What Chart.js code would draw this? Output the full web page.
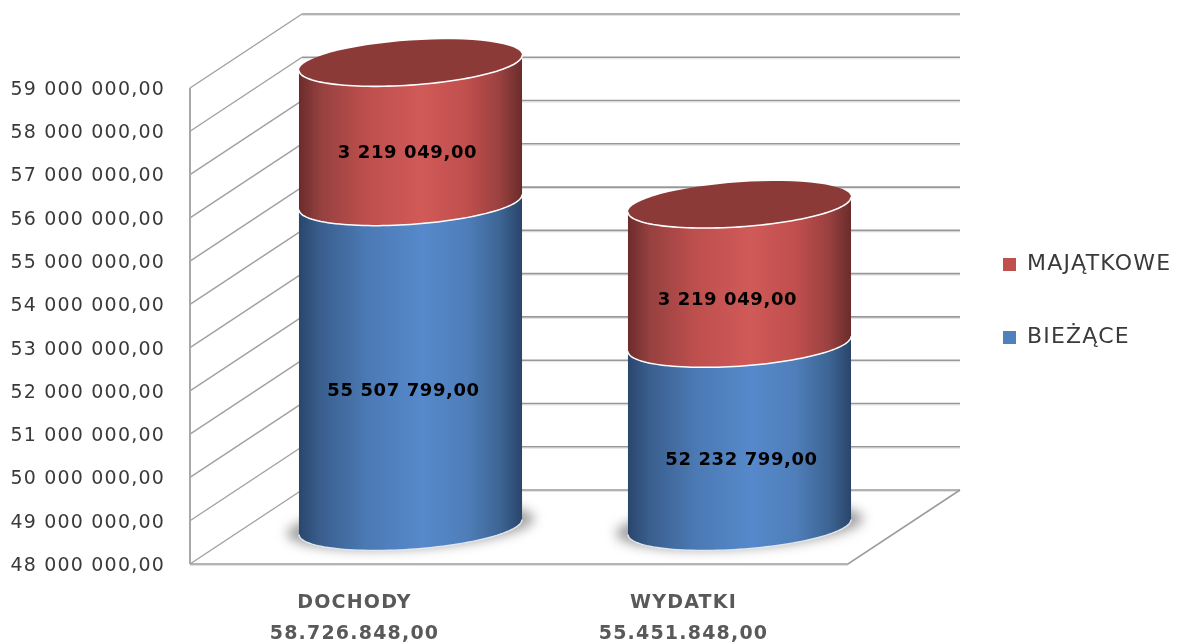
<!DOCTYPE html>
<html><head><meta charset="utf-8">
<style>html,body{margin:0;padding:0;background:#fff}#w{width:1186px;height:643px}</style>
<script src="https://cdn.jsdelivr.net/npm/chart.js@4"></script>
</head><body><div id="w"><canvas id="c"></canvas></div>
<script>
const categories = ['DOCHODY', 'WYDATKI'];
const totalLabels = ['58.726.848,00', '55.451.848,00'];
const biezace = [55507799, 52232799];
const majatkowe = [3219049, 3219049];
const axisMin = 48000000, axisMax = 59000000, axisStep = 1000000;
const fmt = v => Math.floor(v).toString().replace(/\B(?=(\d{3})+$)/g, ' ') + ',00';

// 3D look
const DX = 112, DY = -74;
const TILT = 7.5, MINOR = 22.3;
const labelShift = [[[-7, 27], [-3, 21]], [[2, 25], [-12, 26]]];
const looks = [
  ['#2a466c', '#3a5f8f', '#4b79b3', '#5689cb', '#4f7eba', '#3d6594', '#2a456a'],
  ['#6b2c2b', '#964140', '#bd4f4d', '#d05a58', '#c04f4d', '#9a4140', '#692c2a']
];
const TOP = '#8c3a38';

function ring(cx, cy, a, from, to, move, ctx) {
  const n = 64;
  for (let i = 0; i <= n; i++) {
    const t = from + (to - from) * i / n;
    const x = cx + a * Math.cos(t), y = cy - TILT * Math.cos(t) + MINOR * Math.sin(t);
    (i === 0 && move) ? ctx.moveTo(x, y) : ctx.lineTo(x, y);
  }
}

const scene = {
  id: 'scene',
  beforeDraw(chart) { chart.ctx.letterSpacing = '1.2px'; },
  beforeDatasetDraw() { return false; },
  beforeDatasetsDraw(chart) {
    const { ctx, scales: { x: xs, y: ys } } = chart;
    const L = xs.left, R = xs.right, B = ys.bottom;
    ctx.save();
    ctx.lineCap = 'butt';
    const line = (pts, col, w) => {
      ctx.beginPath(); ctx.strokeStyle = col; ctx.lineWidth = w;
      pts.forEach((p, i) => i ? ctx.lineTo(p[0], p[1]) : ctx.moveTo(p[0], p[1]));
      ctx.stroke();
    };
    ys.ticks.forEach((t, i) => {
      const y = ys.getPixelForTick(i);
      line([[L, y], [L + DX, y + DY]], '#a0a0a0', 1.4);
      line([[L + DX, y + DY + 1.5], [R + DX, y + DY + 1.5]], '#e2e2e2', 1);
      line([[L + DX, y + DY], [R + DX, y + DY]], '#989898', 1.6);
    });
    line([[L, ys.top], [L, B]], '#a8a8a8', 2);
    line([[L, B + 1.5], [R, B + 1.5]], '#e0e0e0', 1);
    line([[L, B], [R, B], [R + DX, B + DY]], '#9c9c9c', 1.6);
    ctx.restore();
  },
  afterDatasetsDraw(chart) {
    const { ctx, scales: { y: ys } } = chart;
    const mA = chart.getDatasetMeta(0), mB = chart.getDatasetMeta(1);
    const floorPx = ys.getPixelForValue(axisMin);
    ctx.save();
    ctx.letterSpacing = '0.6px';
    categories.forEach((_, i) => {
      [mA.data[i], mB.data[i]].forEach((el, s) => {
        const p = el.getProps(['x', 'y', 'base', 'width'], true);
        const cx = p.x + DX / 2, a = p.width / 2;
        const yt = p.y + DY / 2, yb = Math.min(p.base, floorPx) + DY / 2;
        if (s === 0) {
          ctx.save();
          ctx.filter = 'blur(6px)';
          ctx.fillStyle = 'rgba(95,95,95,.6)';
          ctx.beginPath(); ring(cx, yb - 1, a + 12, 0, Math.PI * 2, true, ctx); ctx.fill();
          ctx.restore();
        }
        const g = ctx.createLinearGradient(cx - a, 0, cx + a, 0);
        looks[s].forEach((c, k) => g.addColorStop([0, .1, .3, .55, .75, .9, 1][k], c));
        ctx.beginPath();
        ring(cx, yb, a, Math.PI, 0, true, ctx);
        ring(cx, yt, a, 0, Math.PI, false, ctx);
        ctx.closePath();
        ctx.fillStyle = g; ctx.fill();
        ctx.beginPath(); ring(cx, yb, a, 0, Math.PI, true, ctx);
        ctx.strokeStyle = s === 0 ? '#dfe6ef' : '#ffffff'; ctx.lineWidth = 1.5; ctx.stroke();
        if (s === 1) {
          ctx.beginPath(); ring(cx, yt, a, 0, Math.PI * 2, true, ctx); ctx.closePath();
          ctx.fillStyle = TOP; ctx.fill();
          ctx.beginPath(); ring(cx, yt, a, 0, Math.PI, true, ctx);
          ctx.strokeStyle = '#ffffff'; ctx.lineWidth = 1.6; ctx.stroke();
        }
      });
      [mA.data[i], mB.data[i]].forEach((el, s) => {
        const p = el.getProps(['x', 'y', 'base'], true);
        const v = chart.data.datasets[s].data[i];
        ctx.fillStyle = '#000'; ctx.font = 'bold 18px "DejaVu Sans"';
        ctx.textAlign = 'center'; ctx.textBaseline = 'middle';
        ctx.fillText(fmt(v), p.x + DX / 2 + labelShift[i][s][0], (p.y + Math.min(p.base, floorPx)) / 2 + DY / 2 + labelShift[i][s][1]);
      });
    });
    ctx.restore();
  },
  afterLayout(chart) {
    const lg = chart.legend;
    lg.left = 952; lg.right = 1186; lg.top = 100; lg.bottom = 502;
  }
};

new Chart(document.getElementById('c'), {
  type: 'bar',
  data: {
    labels: categories.map((c, i) => [c, totalLabels[i]]),
    datasets: [
      { label: 'BIEŻĄCE', data: biezace, backgroundColor: '#4f81bd', borderWidth: 0 },
      { label: 'MAJĄTKOWE', data: majatkowe, backgroundColor: '#c0504d', borderWidth: 0 }
    ]
  },
  plugins: [scene],
  options: {
    responsive: true, maintainAspectRatio: false, animation: false,
    layout: { padding: { top: 88, right: 338, left: 0, bottom: 0 } },
    datasets: { bar: { barPercentage: 0.678, categoryPercentage: 1 } },
    plugins: {
      tooltip: { enabled: false },
      legend: {
        position: 'chartArea', reverse: true, align: 'center',
        labels: { boxWidth: 13, boxHeight: 13, padding: 51, color: '#3a3a3a', font: { family: 'DejaVu Sans', size: 22 } }
      }
    },
    scales: {
      x: {
        stacked: true,
        grid: { display: false, drawTicks: false }, border: { display: false },
        afterFit(s) { s.height = 79; },
        ticks: { padding: 24, color: '#595959', maxRotation: 0, font: { family: 'DejaVu Sans', size: 19, weight: 'bold', lineHeight: '31px' } }
      },
      y: {
        stacked: true, min: axisMin, max: axisMax,
        grid: { display: false, drawTicks: false }, border: { display: false },
        afterFit(s) { s.width = 190; },
        ticks: { stepSize: axisStep, padding: 25, labelOffset: 2, color: '#3a3a3a', callback: fmt, font: { family: 'DejaVu Sans', size: 19 } }
      }
    }
  }
});
</script></body></html>
